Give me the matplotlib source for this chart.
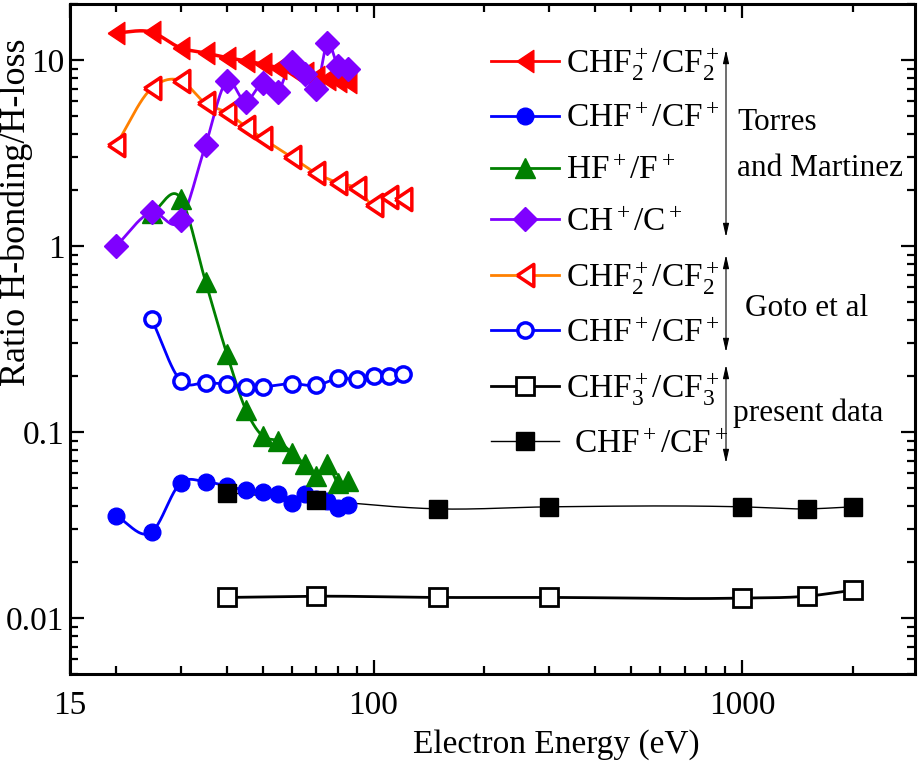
import numpy as np
import matplotlib
matplotlib.use("Agg")
import matplotlib.pyplot as plt
from matplotlib.ticker import FixedLocator, NullFormatter
from matplotlib.lines import Line2D

plt.rcParams['font.family'] = ['Liberation Serif', 'DejaVu Serif']
plt.rcParams['mathtext.fontset'] = 'custom'
plt.rcParams['mathtext.rm'] = 'Liberation Serif'
plt.rcParams['mathtext.it'] = 'Liberation Serif:italic'
plt.rcParams['mathtext.default'] = 'regular'

# --- data ---
# Torres and Martinez
torres_E = [20, 25, 30, 35, 40, 45, 50, 55, 60, 65, 70, 75, 80, 85]
torres_chf2 = [14.0, 14.1, 11.6, 10.9, 10.3, 9.9, 9.5, 9.1, 8.8, 8.5, 8.15, 7.95, 7.75, 7.6]
torres_chf = [0.0353, 0.029, 0.0534, 0.054, 0.0513, 0.0486, 0.0478, 0.0462, 0.0417,
              0.0462, 0.0435, 0.0426, 0.0392, 0.0406]
torres_ch = [1.0, 1.52, 1.38, 3.49, 7.7, 5.97, 7.5, 6.76, 9.7, 8.4, 6.96, 12.4, 9.3, 8.9]
torres_hf_E = [25, 30, 35, 40, 45, 50, 55, 60, 65, 70, 75, 80, 85]
torres_hf = [1.5, 1.8, 0.643, 0.262, 0.132, 0.095, 0.0895, 0.0774, 0.067, 0.058, 0.067,
             0.0535, 0.0546]

# Goto et al
goto_E = [20, 25, 30, 35, 40, 45, 50, 60, 70, 80, 90, 100, 110, 120]
goto_chf2 = [3.49, 7.05, 7.74, 5.85, 5.21, 4.38, 3.79, 3.0, 2.46, 2.19, 2.04, 1.66, 1.83, 1.78]
goto_chf_E = [25, 30, 35, 40, 45, 50, 60, 70, 80, 90, 100, 110, 120]
goto_chf = [0.404, 0.188, 0.184, 0.181, 0.175, 0.175, 0.182, 0.178, 0.194, 0.193, 0.2,
            0.2, 0.206]

# present data
present_E = [40, 70, 150, 300, 1000, 1500, 2000]
present_chf3 = [0.0129, 0.0131, 0.0129, 0.0129, 0.0128, 0.0131, 0.0141]
present_chf = [0.0472, 0.043, 0.0386, 0.0396, 0.0396, 0.0386, 0.0396]


def smooth(x, y, n=24):
    # cubic hermite through the points in log-log space, for the drawn line only
    lx = np.log10(np.asarray(x, float))
    ly = np.log10(np.asarray(y, float))
    m = np.gradient(ly, lx)
    xs, ys = [], []
    t = np.linspace(0, 1, n, endpoint=False)
    h00 = 2 * t**3 - 3 * t**2 + 1
    h10 = t**3 - 2 * t**2 + t
    h01 = -2 * t**3 + 3 * t**2
    h11 = t**3 - t**2
    for i in range(len(lx) - 1):
        h = lx[i + 1] - lx[i]
        xs.append(lx[i] + t * h)
        ys.append(h00 * ly[i] + h10 * h * m[i] + h01 * ly[i + 1] + h11 * h * m[i + 1])
    xs.append([lx[-1]])
    ys.append([ly[-1]])
    return 10 ** np.concatenate(xs), 10 ** np.concatenate(ys)


W, H = 922, 764
fig = plt.figure(figsize=(W / 100, H / 100), dpi=100)
ax = fig.add_axes([70 / W, (H - 674) / H, 845 / W, 670 / H])

RED = '#ff0000'
BLUE = '#0000ff'
GREEN = '#008000'
PURPLE = '#7f00ff'
ORANGE = '#ff8000'

# narrow left-pointing triangle, a bit taller than wide like the original
LTRI = [(-0.75, 0), (0.75, 1), (0.75, -1), (-0.75, 0)]


def series(x, y, color, lw, marker, ms, mfc, mec, mew=2.0):
    sx, sy = smooth(x, y)
    ax.plot(sx, sy, color=color, lw=lw, zorder=2)
    ax.plot(x, y, ls='none', marker=marker, ms=ms, mfc=mfc, mec=mec, mew=mew, zorder=3)


series(torres_E, torres_chf, BLUE, 2.0, 'o', 12, BLUE, BLUE, 1)
series(present_E, present_chf, 'black', 1.0, 's', 13, 'black', 'black', 1)
series(present_E, present_chf3, 'black', 2.0, 's', 12.5, 'white', 'black', 2)
series(torres_hf_E, torres_hf, GREEN, 2.0, '^', 14, GREEN, GREEN, 1)
series(goto_chf_E, goto_chf, BLUE, 2.0, 'o', 11, 'white', BLUE, 2.5)
series(goto_E, goto_chf2, ORANGE, 2.0, LTRI, 16, 'white', RED, 2.5)
series(torres_E, torres_chf2, RED, 2.5, LTRI, 16, RED, RED, 1)
series(torres_E, torres_ch, PURPLE, 2.0, 'D', 12, PURPLE, PURPLE, 1)

ax.set_xscale('log')
ax.set_yscale('log')
ax.set_xlim(15, 2950)
ax.set_ylim(0.005, 20)

ax.xaxis.set_major_locator(FixedLocator([15, 100, 1000]))
ax.set_xticklabels(['15', '100', '1000'])
xminor = [v * d for d in (10, 100, 1000) for v in range(2, 10) if 15 < v * d < 2950]
ax.xaxis.set_minor_locator(FixedLocator(xminor))
ax.xaxis.set_minor_formatter(NullFormatter())

ax.yaxis.set_major_locator(FixedLocator([0.01, 0.1, 1, 10]))
ax.set_yticklabels(['0.01', '0.1', '1', '10'])
yminor = [v * d for d in (0.001, 0.01, 0.1, 1, 10) for v in range(2, 10) if 0.005 <= v * d <= 20]
ax.yaxis.set_minor_locator(FixedLocator(yminor))
ax.yaxis.set_minor_formatter(NullFormatter())

ax.tick_params(which='both', direction='in', top=True, right=True, width=1.6,
               labelsize=24)
ax.tick_params(which='major', length=10)
ax.tick_params(which='minor', length=6)
ax.tick_params(axis='x', pad=12)
ax.tick_params(axis='y', pad=4)
for s in ax.spines.values():
    s.set_linewidth(2.2)

fig.text(16 / W, (H - 212) / H, 'Ratio H-bonding/H-loss', rotation=90,
         ha='center', va='center', fontsize=26)
fig.text(556 / W, (H - 745) / H, 'Electron Energy (eV)', ha='center', va='center',
         fontsize=24)

# legend
handles = [
    Line2D([], [], color=RED, lw=2, marker=LTRI, ms=16, mfc=RED, mec=RED),
    Line2D([], [], color=BLUE, lw=2, marker='o', ms=12, mfc=BLUE, mec=BLUE),
    Line2D([], [], color=GREEN, lw=2, marker='^', ms=14, mfc=GREEN, mec=GREEN),
    Line2D([], [], color=PURPLE, lw=2, marker='D', ms=12, mfc=PURPLE, mec=PURPLE),
    Line2D([], [], color=ORANGE, lw=2, marker=LTRI, ms=16, mfc='white', mec=RED, mew=2.5),
    Line2D([], [], color=BLUE, lw=2, marker='o', ms=11, mfc='white', mec=BLUE, mew=2.5),
    Line2D([], [], color='black', lw=2, marker='s', ms=12.5, mfc='white', mec='black', mew=2),
    Line2D([], [], color='black', lw=1, marker='s', ms=13, mfc='black', mec='black'),
]
labels = [
    r'CHF$_2^+$/CF$_2^+$',
    r'CHF$^+$/CF$^+$',
    r'HF$^+$/F$^+$',
    r'CH$^+$/C$^+$',
    r'CHF$_2^+$/CF$_2^+$',
    r'CHF$^+$/CF$^+$',
    r'CHF$_3^+$/CF$_3^+$',
    r' CHF$^+$/CF$^+$',
]
ax.legend(handles, labels, loc='upper left', bbox_to_anchor=(491 / W, (H - 45) / H),
          bbox_transform=fig.transFigure, frameon=False, fontsize=24,
          handlelength=2.05, handletextpad=0.2, labelspacing=0.64,
          borderpad=0, borderaxespad=0)

# group arrows and notes
arrow_kw = dict(arrowstyle='<|-|>,head_length=0.8,head_width=0.18', color='black', lw=0.8,
                shrinkA=0, shrinkB=0)
for top, bottom in [(50, 237), (255, 352), (365, 463)]:
    ax.annotate('', xy=(726, H - top), xytext=(726, H - bottom),
                xycoords='figure pixels', textcoords='figure pixels', arrowprops=arrow_kw)

fig.text(737 / W, (H - 123) / H, 'Torres', ha='left', va='center', fontsize=22.5)
fig.text(737 / W, (H - 168) / H, 'and Martinez', ha='left', va='center', fontsize=22.5)
fig.text(745 / W, (H - 308) / H, 'Goto et al', ha='left', va='center', fontsize=22.5)
fig.text(733 / W, (H - 413) / H, 'present data', ha='left', va='center', fontsize=22.5)

fig.savefig('out.png', dpi=100)
